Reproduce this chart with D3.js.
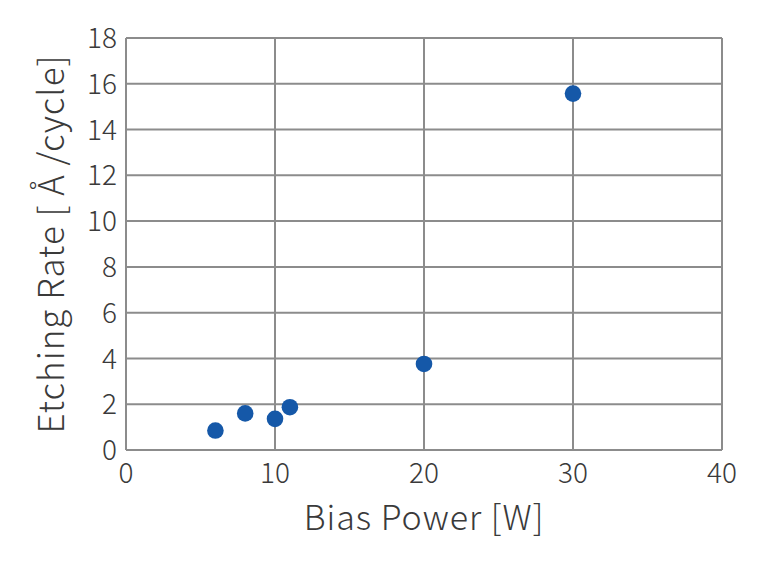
<!doctype html>
<html lang="en">
  <head>
    <meta charset="UTF-8"/>
    <title>Etching Rate</title>
    <script src="https://cdnjs.cloudflare.com/ajax/libs/d3/7.8.5/d3.min.js"></script>
    <style>
      body { margin: 0; background: #fff; }
      text { font-family: "Noto Sans CJK JP", "Noto Sans", sans-serif; font-weight: 300; fill: #3a3a3a; }
    </style>
  </head>
  <body>
    <div id="chart"></div>
    <script>
      // values
      var biasPower = [6, 8, 10, 11, 20, 30];
      var etchRate = [0.85, 1.6, 1.36, 1.87, 3.76, 15.57];
      var xTicks = [0, 10, 20, 30, 40];
      var yTicks = [0, 2, 4, 6, 8, 10, 12, 14, 16, 18];

      var W = 768, H = 562;
      var margin = {top: 38, right: 46, bottom: 112, left: 126};

      var svg = d3.select("#chart").append("svg")
          .attr("width", W).attr("height", H);

      var x = d3.scaleLinear().domain([0, 40]).range([margin.left, W - margin.right]);
      var y = d3.scaleLinear().domain([0, 18]).range([H - margin.bottom, margin.top]);

      var grid = svg.append("g").attr("stroke", "#8c8c8c").attr("stroke-width", 2);
      grid.selectAll(".h").data(yTicks).enter().append("line")
	  .attr("x1", x(0)).attr("x2", x(40))
	  .attr("y1", d => y(d)).attr("y2", d => y(d));
      grid.selectAll(".v").data(xTicks).enter().append("line")
	  .attr("y1", y(0)).attr("y2", y(18))
	  .attr("x1", d => x(d)).attr("x2", d => x(d));

      svg.append("g").selectAll("text").data(yTicks).enter().append("text")
	  .attr("x", x(0) - 9).attr("y", d => y(d)).attr("dy", "0.36em")
	  .attr("text-anchor", "end").attr("font-size", 28)
	  .text(d => d);

      svg.append("g").selectAll("text").data(xTicks).enter().append("text")
	  .attr("x", d => x(d)).attr("y", y(0) + 33)
	  .attr("text-anchor", "middle").attr("font-size", 28)
	  .text(d => d);

      svg.append("text")
	  .attr("x", (x(0) + x(40)) / 2).attr("y", 530)
	  .attr("text-anchor", "middle").attr("font-size", 34)
	  .attr("letter-spacing", 1)
	  .text("Bias Power [W]");

      svg.append("text")
	  .attr("transform", "translate(64," + ((y(0) + y(18)) / 2) + ") rotate(-90)")
	  .attr("text-anchor", "middle").attr("font-size", 35)
	  .attr("letter-spacing", 1)
	  .text("Etching Rate [ Å /cycle]");

      svg.append("g").selectAll("circle").data(biasPower).enter().append("circle")
	  .attr("cx", d => x(d))
	  .attr("cy", (d, i) => y(etchRate[i]))
	  .attr("r", 8.3)
	  .attr("fill", "#1558a8");
    </script>
  </body>
</html>
